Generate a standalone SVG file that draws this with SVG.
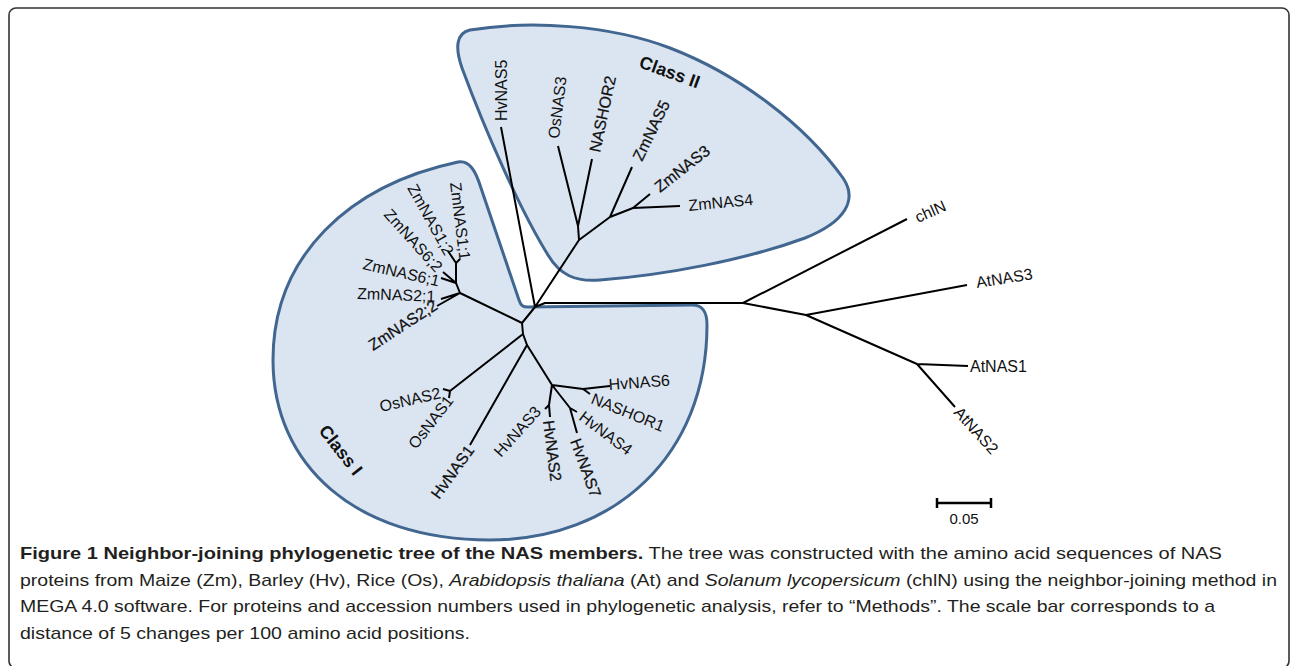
<svg xmlns="http://www.w3.org/2000/svg" width="1290" height="666" viewBox="0 0 1290 666">
<style>
.lbl{font-family:"Liberation Sans",Arial,sans-serif;font-size:16px;fill:#111}
.b{stroke:#111;stroke-width:0.25}
.cls{font-family:"Liberation Sans",Arial,sans-serif;font-size:18px;font-weight:bold;fill:#111}
.blob{fill:#dbe5f1;stroke:#416690;stroke-width:3}
.tree{fill:none;stroke:#000;stroke-width:2;stroke-linejoin:round}
.cap{font-family:"Liberation Sans",Arial,sans-serif;font-size:17px;fill:#231f20}
</style>
<rect x="9" y="8" width="1280" height="660" rx="7" fill="#fff" stroke="#333" stroke-width="1.6"/>

<g id="class-I">
<path class="blob" d="M458,162 C470,160 476,172 481,188 L519,300 C521,306 523,307 528,307 L692,305 C703,305 707,312 707,325 C707,455 615,540 490,540 C355,540 273,465 273,360 C273,255 350,185 458,162 Z"/>
<text class="cls" transform="translate(318,431) rotate(52)">Class I</text>
</g>
<g id="class-II">
<path class="blob" d="M470,30 C530,20 610,25 670,48 C740,75 805,125 843,178 C858,200 845,222 805,238 C745,260 665,275 600,280 C575,282 560,275 548,255 C520,210 485,130 462,68 C455,48 456,33 470,30 Z"/>
<text class="cls" transform="translate(638,67) rotate(20)">Class II</text>
</g>

<g id="connectors">
<path class="tree" d="
M501,127 L535,307
M535,307 L579,240 L578,226
M578,226 L558,146
M578,226 L592,159
M579,240 L610,217 L632,167
M610,217 L633,208 L650,194
M633,208 L680,206
M535,307 L545,303 L743,303
M743,303 L907,219
M743,303 L806,315 L967,285
M806,315 L917,364 L968,366
M917,364 L955,407
M535,307 L522,323 L460,293
M460,293 L437,306
M460,293 L441,299
M460,293 L456,283
M456,283 L441,278
M456,283 L443,272
M456,283 L456,263 L448,251
M456,263 L460,259
M522,323 L523,334 L450,391
M450,391 L443,389
M450,391 L449,398
M523,334 L527,345 L470,445
M527,345 L552,385 L583,389 L610,386
M583,389 L590,394
M552,385 L570,408 L577,412
M570,408 L577,433
M552,385 L549,405 L545,409
M549,405 L550,417
"/>
</g>

<g id="n-HvNAS5"><text class="lbl" transform="translate(507,121) rotate(-90)">HvNAS5</text></g>
<g id="n-OsNAS3"><text class="lbl" transform="translate(559,139) rotate(-83)">OsNAS3</text></g>
<g id="n-NASHOR2"><text class="lbl b" transform="translate(600,153) rotate(-78)">NASHOR2</text></g>
<g id="n-ZmNAS5"><text class="lbl b" transform="translate(642,162) rotate(-64)">ZmNAS5</text></g>
<g id="n-ZmNAS3"><text class="lbl b" transform="translate(660,193) rotate(-38)">ZmNAS3</text></g>
<g id="n-ZmNAS4"><text class="lbl" transform="translate(689,211) rotate(-5.5)">ZmNAS4</text></g>

<g id="n-chlN"><text class="lbl" transform="translate(918,223) rotate(-24)">chlN</text></g>
<g id="n-AtNAS3"><text class="lbl" transform="translate(977,288) rotate(-9)">AtNAS3</text></g>
<g id="n-AtNAS1"><text class="lbl" x="970" y="372">AtNAS1</text></g>
<g id="n-AtNAS2"><text class="lbl" transform="translate(953,413) rotate(48)">AtNAS2</text></g>

<g id="n-ZmNAS1-1"><text class="lbl" transform="translate(450,183) rotate(83)">ZmNAS1;1</text></g>
<g id="n-ZmNAS1-2"><text class="lbl" transform="translate(407,188) rotate(61)">ZmNAS1;2</text></g>
<g id="n-ZmNAS6-2"><text class="lbl" transform="translate(383,215) rotate(48)">ZmNAS6;2</text></g>
<g id="n-ZmNAS6-1"><text class="lbl" transform="translate(362,269) rotate(13)">ZmNAS6;1</text></g>
<g id="n-ZmNAS2-1"><text class="lbl" transform="translate(357,299) rotate(2)">ZmNAS2;1</text></g>
<g id="n-ZmNAS2-2"><text class="lbl b" transform="translate(373,351) rotate(-33)">ZmNAS2;2</text></g>
<g id="n-OsNAS2"><text class="lbl" transform="translate(381,412) rotate(-13)">OsNAS2</text></g>
<g id="n-OsNAS1"><text class="lbl" transform="translate(416,450) rotate(-52)">OsNAS1</text></g>
<g id="n-HvNAS1"><text class="lbl b" transform="translate(439,500) rotate(-54)">HvNAS1</text></g>
<g id="n-HvNAS3"><text class="lbl" transform="translate(501,458) rotate(-48)">HvNAS3</text></g>
<g id="n-HvNAS2"><text class="lbl b" transform="translate(543,421) rotate(83)">HvNAS2</text></g>
<g id="n-HvNAS7"><text class="lbl b" transform="translate(570,441) rotate(70)">HvNAS7</text></g>
<g id="n-HvNAS4"><text class="lbl" transform="translate(578,419) rotate(37)">HvNAS4</text></g>
<g id="n-NASHOR1"><text class="lbl" transform="translate(590,403) rotate(22)">NASHOR1</text></g>
<g id="n-HvNAS6"><text class="lbl" transform="translate(609,390) rotate(-4)">HvNAS6</text></g>

<g id="scale-bar">
<path d="M937,503 H991 M937,498 V508 M991,498 V508" fill="none" stroke="#000" stroke-width="2.5"/>
<text class="lbl" x="964" y="524" text-anchor="middle" style="font-size:15px">0.05</text>
</g>

<g id="caption">
<text class="cap" x="20" y="559" textLength="1202" lengthAdjust="spacingAndGlyphs"><tspan font-weight="bold">Figure 1 Neighbor-joining phylogenetic tree of the NAS members.</tspan> The tree was constructed with the amino acid sequences of NAS</text>
<text class="cap" x="20" y="586" textLength="1257" lengthAdjust="spacingAndGlyphs">proteins from Maize (Zm), Barley (Hv), Rice (Os), <tspan font-style="italic">Arabidopsis thaliana</tspan> (At) and <tspan font-style="italic">Solanum lycopersicum</tspan> (chlN) using the neighbor-joining method in</text>
<text class="cap" x="20" y="612" textLength="1195" lengthAdjust="spacingAndGlyphs">MEGA 4.0 software. For proteins and accession numbers used in phylogenetic analysis, refer to “Methods”. The scale bar corresponds to a</text>
<text class="cap" x="20" y="639" textLength="450" lengthAdjust="spacingAndGlyphs">distance of 5 changes per 100 amino acid positions.</text>
</g>
</svg>
